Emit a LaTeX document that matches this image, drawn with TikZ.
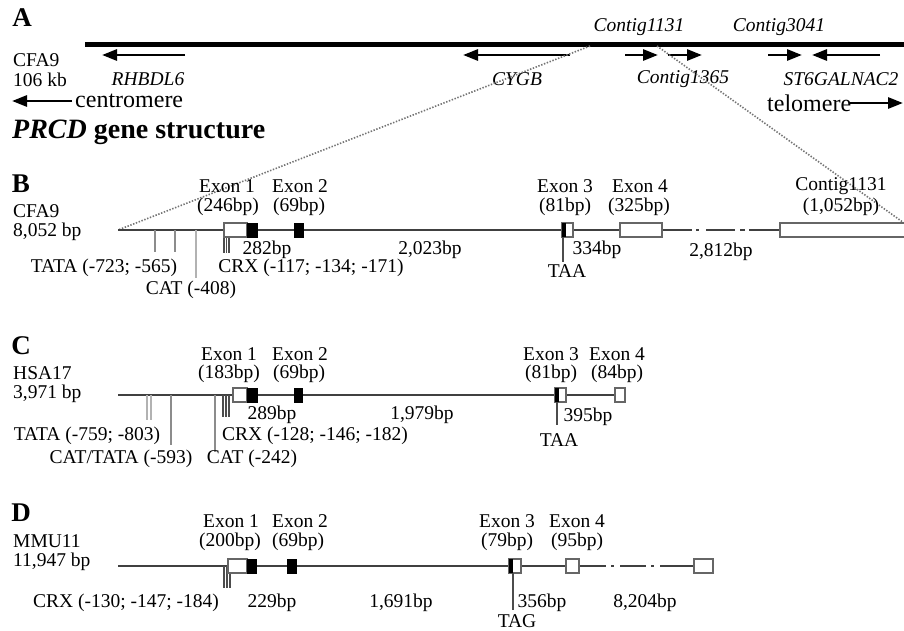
\documentclass[tikz,border=0pt]{standalone}
\usepackage{fontspec}
\setmainfont{Liberation Serif}
\usetikzlibrary{arrows.meta}
\begin{document}
\begin{tikzpicture}[x=1pt,y=-1pt,
  t/.style={inner sep=0pt, font=\fontsize{19.5}{20}\selectfont},
  gn/.style={inner sep=0pt, font=\fontsize{19.5}{20}\selectfont\itshape},
  big/.style={inner sep=0pt, font=\fontsize{24}{24}\selectfont},
  panel/.style={inner sep=0pt, font=\fontsize{27}{27}\selectfont\bfseries},
  chrom/.style={line width=5pt, draw=black},
  garrow/.style={line width=2.8pt, -{Triangle[length=15pt,width=11pt]}},
  dotline/.style={draw=black!55, line width=1.6pt, dash pattern=on 1.4pt off 1.6pt},
  gline/.style={draw=black!75, line width=1.7pt},
  exo/.style={draw=black!60, line width=1.3pt, fill=white},
  exf/.style={fill=black, draw=black, line width=0.6pt},
  mdark/.style={draw=black!70, line width=1.1pt},
  mgray/.style={draw=black!45, line width=1.1pt},
  mlight/.style={draw=black!30, line width=1.1pt}
]
\useasboundingbox (0,0) rectangle (904,630);
\fill[white] (0,0) rectangle (904,630);

% ---------------- Panel A ----------------
\node[panel] (lA) at (22,18) {A};
\draw[chrom] (85,44) coordinate (chrL) -- (906,44) coordinate (chrR);
\node[t, anchor=west] (cfaA) at (13,60) {CFA9};
\node[t, anchor=west] (kbA) at (13,80) {106 kb};
\coordinate (r1) at (185,55); \coordinate (r2) at (102,55);
\draw[garrow] (r1) -- (r2);
\node[gn] (rhbdl) at (148,79) {RHBDL6};
\coordinate (c1) at (570,55); \coordinate (c2) at (463,55);
\draw[garrow] (c1) -- (c2);
\node[gn] (cygb) at (517,79) {CYGB};
\coordinate (a1) at (625,55); \coordinate (a2) at (658,55);
\draw[garrow] (a1) -- (a2);
\coordinate (a3) at (668,55); \coordinate (a4) at (702,55);
\draw[garrow] (a3) -- (a4);
\coordinate (a5) at (768,55); \coordinate (a6) at (802,55);
\draw[garrow] (a5) -- (a6);
\coordinate (a7) at (880,55); \coordinate (a8) at (812,55);
\draw[garrow] (a7) -- (a8);
\node[gn] (c1131) at (639,27) {Contig1131};
\node[gn] (c3041) at (779,27) {Contig3041};
\node[gn] (c1365) at (683,79) {Contig1365};
\node[gn] (st6) at (841,79) {ST6GALNAC2};
\node[big, anchor=west] (centro) at (75,101) {centromere};
\coordinate (ce1) at (72,101); \coordinate (ce2) at (12,101);
\draw[garrow] (ce1) -- (ce2);
\node[big, anchor=west] (telo) at (767,103) {telomere};
\coordinate (te1) at (850,103); \coordinate (te2) at (903,103);
\draw[garrow] (te1) -- (te2);

\node[panel, anchor=west, font=\fontsize{28}{28}\selectfont\bfseries] (prcd) at (12,132) {\textit{PRCD} gene structure};

% dotted zoom lines
\coordinate (zL) at (590,46);
\coordinate (zR) at (657,46);
\coordinate (bStart) at (118,230);
\coordinate (bEnd) at (904,223);
\draw[dotline] (zL) -- (bStart);
\draw[dotline] (zR) -- (bEnd);

% ---------------- Panel B ----------------
\node[panel] (lB) at (21,184) {B};
\node[t, anchor=west] (cfaB) at (13,211) {CFA9};
\node[t, anchor=west] (bpB) at (13,232) {8,052 bp};
\draw[gline] (118,230) -- (662,230);
\draw[gline] (662,230) -- (692,230) (696,230) -- (699,230) (706,230) -- (735,230) (740,230) -- (745,230) (749,230) -- (780,230);
% motifs
\draw[mgray] (155,230) -- (155,252);
\draw[mgray] (175,230) -- (175,252);
\draw[mlight] (196,230) -- (196,278);
\draw[mdark] (224,236) -- (224,253) (226.5,236) -- (226.5,253) (229,236) -- (229,253);
% exons
\draw[exo] (224,223) rectangle (247,237);
\draw[exf] (247,223) rectangle (257,237);
\draw[exf] (294,223) rectangle (303,237);
\draw[exo] (562,223) rectangle (573,237);
\fill[black] (562,223) rectangle (565.5,237);
\draw[exo] (620,223) rectangle (662,237);
\draw[exo] (780,223) rectangle (912,237);
\draw[mdark] (563,237) -- (563,262);
% labels
\node[t] (e1B) at (227,186) {Exon 1};
\node[t] (e1bB) at (228,207) {(246bp)};
\node[t] (e2B) at (300,186) {Exon 2};
\node[t] (e2bB) at (299,207) {(69bp)};
\node[t] (e3B) at (565,186) {Exon 3};
\node[t] (e3bB) at (565,207) {(81bp)};
\node[t] (e4B) at (640,186) {Exon 4};
\node[t] (e4bB) at (639,207) {(325bp)};
\node[t] (ctB) at (841,186) {Contig1131};
\node[t] (ctbB) at (841,207) {(1,052bp)};
\node[t] (i1B) at (267,250) {282bp};
\node[t] (i2B) at (430,250) {2,023bp};
\node[t] (i3B) at (597,250) {334bp};
\node[t] (i4B) at (721,252) {2,812bp};
\node[t] (tataB) at (104,268) {TATA (-723; -565)};
\node[t] (crxB) at (311,268) {CRX (-117; -134; -171)};
\node[t] (catB) at (191,290) {CAT (-408)};
\node[t] (taaB) at (567,271) {TAA};

% ---------------- Panel C ----------------
\node[panel] (lC) at (21,346) {C};
\node[t, anchor=west] (hsa) at (13,373) {HSA17};
\node[t, anchor=west] (bpC) at (13,394) {3,971 bp};
\draw[gline] (118,395) -- (615,395);
\draw[mlight] (147,395) -- (147,420);
\draw[mlight] (151,395) -- (151,420);
\draw[mgray] (171,395) -- (171,445);
\draw[mgray] (215,395) -- (215,452);
\draw[mdark] (223,395) -- (223,417) (226,395) -- (226,417) (229,395) -- (229,417);
\draw[exo] (233,388) rectangle (247,402);
\draw[exf] (247,388) rectangle (257,402);
\draw[exf] (294,388) rectangle (302,402);
\draw[exo] (555,388) rectangle (566,402);
\fill[black] (555,388) rectangle (558.5,402);
\draw[exo] (615,388) rectangle (625,402);
\draw[mdark] (557,402) -- (557,425);
\node[t] (e1C) at (229,354) {Exon 1};
\node[t] (e1bC) at (229,374) {(183bp)};
\node[t] (e2C) at (300,354) {Exon 2};
\node[t] (e2bC) at (299,374) {(69bp)};
\node[t] (e3C) at (551,354) {Exon 3};
\node[t] (e3bC) at (551,374) {(81bp)};
\node[t] (e4C) at (617,354) {Exon 4};
\node[t] (e4bC) at (617,374) {(84bp)};
\node[t] (i1C) at (272,415) {289bp};
\node[t] (i2C) at (422,415) {1,979bp};
\node[t] (i3C) at (588,417) {395bp};
\node[t] (tataC) at (87,436) {TATA (-759; -803)};
\node[t] (crxC) at (315,436) {CRX (-128; -146; -182)};
\node[t] (cattC) at (121,459) {CAT/TATA (-593)};
\node[t] (catC) at (252,459) {CAT (-242)};
\node[t] (taaC) at (559,440) {TAA};

% ---------------- Panel D ----------------
\node[panel] (lD) at (21,513) {D};
\node[t, anchor=west] (mmu) at (13,541) {MMU11};
\node[t, anchor=west] (bpD) at (13,562) {11,947 bp};
\draw[gline] (118,566) -- (606,566);
\draw[gline] (611,566) -- (614,566) (620,566) -- (646,566) (651,566) -- (654,566) (660,566) -- (694,566);
\draw[mdark] (224,566) -- (224,588) (227,566) -- (227,588) (230,566) -- (230,588);
\draw[exo] (228,559) rectangle (247,573);
\draw[exf] (247,559) rectangle (256,573);
\draw[exf] (287,559) rectangle (296,573);
\draw[exo] (509,559) rectangle (521,573);
\fill[black] (509,559) rectangle (513,573);
\draw[exo] (566,559) rectangle (579,573);
\draw[exo] (694,559) rectangle (713,573);
\draw[mdark] (513,573) -- (513,610);
\node[t] (e1D) at (231,521) {Exon 1};
\node[t] (e1bD) at (230,542) {(200bp)};
\node[t] (e2D) at (300,521) {Exon 2};
\node[t] (e2bD) at (298,542) {(69bp)};
\node[t] (e3D) at (507,521) {Exon 3};
\node[t] (e3bD) at (507,542) {(79bp)};
\node[t] (e4D) at (577,521) {Exon 4};
\node[t] (e4bD) at (577,542) {(95bp)};
\node[t] (crxD) at (126,603) {CRX (-130; -147; -184)};
\node[t] (i1D) at (272,603) {229bp};
\node[t] (i2D) at (401,603) {1,691bp};
\node[t] (i3D) at (542,603) {356bp};
\node[t] (i4D) at (645,603) {8,204bp};
\node[t] (tagD) at (517,621) {TAG};
\end{tikzpicture}
\end{document}
